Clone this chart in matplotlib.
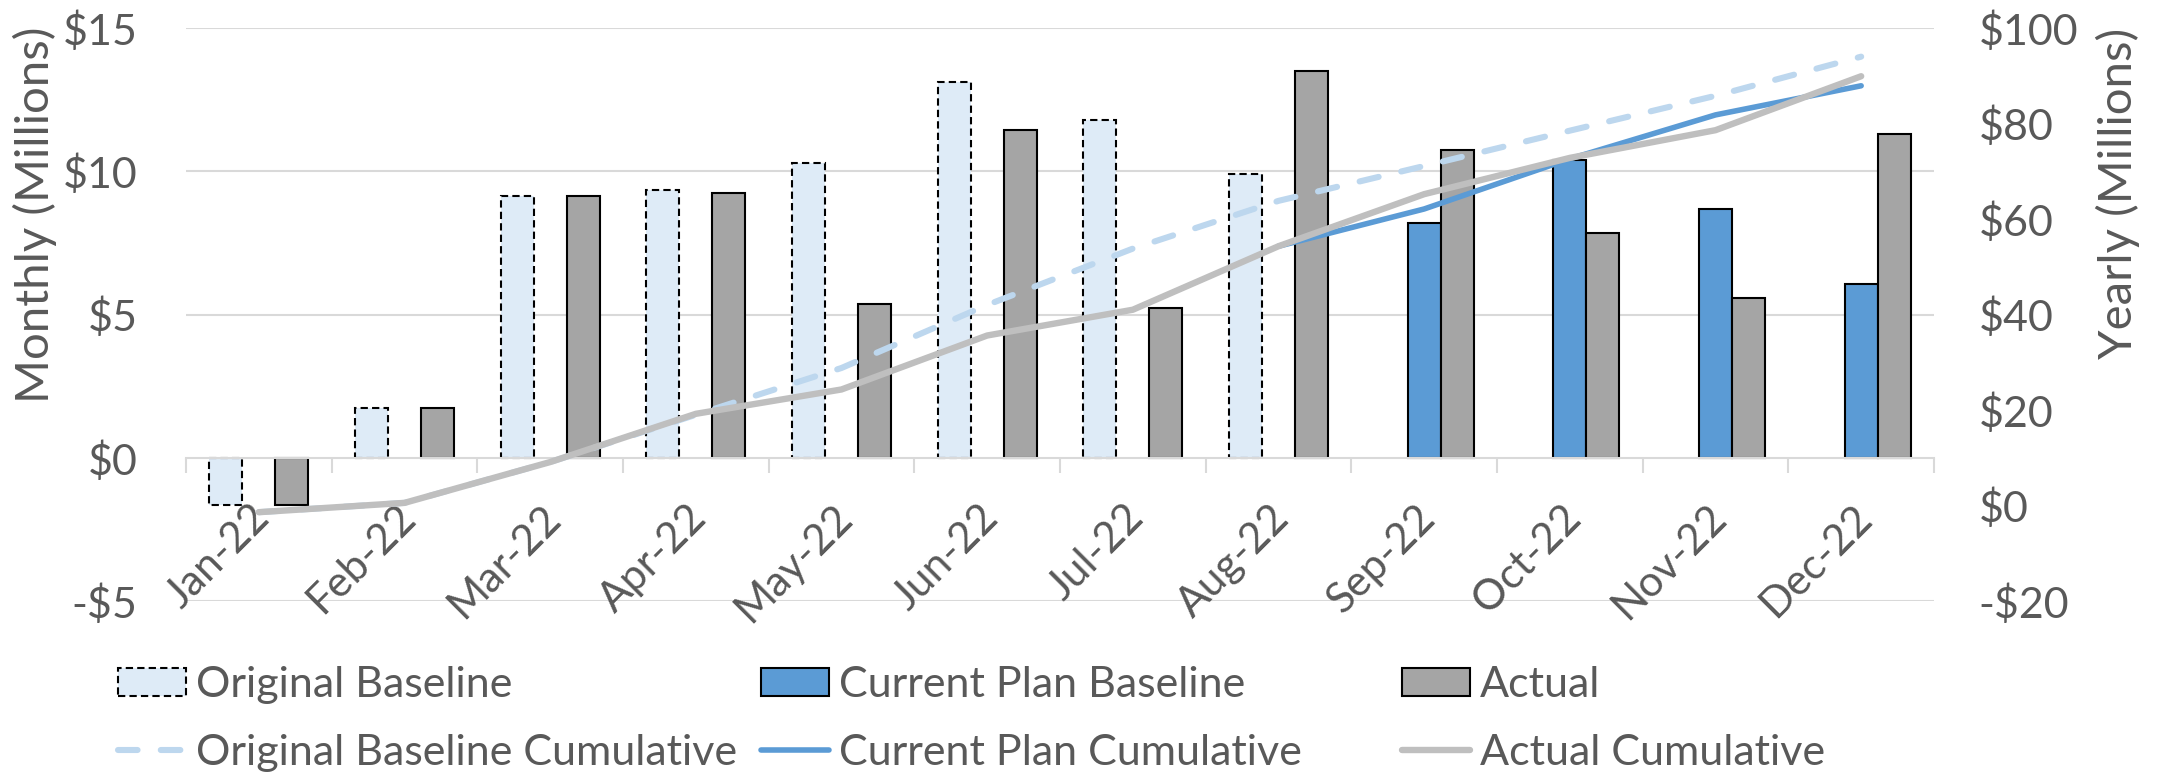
import numpy as np
import matplotlib
matplotlib.use("Agg")
from matplotlib import pyplot as plt
from matplotlib.ticker import FuncFormatter
from matplotlib.transforms import ScaledTranslation

plt.rcParams['font.family'] = ['Lato', 'DejaVu Sans']

nan = np.nan
months = ['Jan-22', 'Feb-22', 'Mar-22', 'Apr-22', 'May-22', 'Jun-22',
          'Jul-22', 'Aug-22', 'Sep-22', 'Oct-22', 'Nov-22', 'Dec-22']

# monthly values ($M)
orig_baseline = [-1.65, 1.72, 9.14, 9.35, 10.28, 13.13, 11.80, 9.92, nan, nan, nan, nan]
plan_baseline = [nan, nan, nan, nan, nan, nan, nan, nan, 8.21, 10.39, 8.67, 6.08]
actual = [-1.65, 1.72, 9.13, 9.24, 5.35, 11.43, 5.21, 13.51, 10.74, 7.86, 5.56, 11.30]

# cumulative values ($M)
orig_cum = [-1.4, 0.55, 9.1, 19.0, 28.8, 42.0, 53.8, 63.8, 71.1, 78.5, 85.8, 94.0]
plan_cum = [nan, nan, nan, nan, nan, nan, nan, 54.3, 62.1, 72.6, 81.8, 87.9]
actual_cum = [-1.4, 0.55, 9.1, 19.2, 24.3, 35.6, 41.0, 54.3, 65.2, 72.8, 78.6, 89.9]

txt = '#595959'
grid = '#D9D9D9'
fs = 31

fig = plt.figure(figsize=(21.6, 7.8), dpi=100)
ax = fig.add_axes([186/2160, 1-601/780, (1934-186)/2160, (601-28)/780])
ax2 = ax.twinx()

x = np.arange(len(months))
w = 0.227
b1 = ax.bar(x - w, orig_baseline, w, color='#DEEBF7', edgecolor='black',
            linewidth=1.5, linestyle=(0, (3.5, 2)), label='Original Baseline', zorder=2)
b2 = ax.bar(x, plan_baseline, w, color='#5B9BD5', edgecolor='black',
            linewidth=1.5, label='Current Plan Baseline', zorder=2)
b3 = ax.bar(x + w, actual, w, color='#A5A5A5', edgecolor='black',
            linewidth=1.5, label='Actual', zorder=2)

l1, = ax2.plot(x, orig_cum, color='#BDD7EE', lw=4.4, dashes=(3.2, 3.8),
               dash_capstyle='round', label='Original Baseline Cumulative')
l2, = ax2.plot(x, plan_cum, color='#5B9BD5', lw=4.0, solid_capstyle='round',
               label='Current Plan Cumulative')
l3, = ax2.plot(x, actual_cum, color='#BFBFBF', lw=4.6, solid_capstyle='round',
               label='Actual Cumulative')

ax.set_xlim(-0.5, 11.5)
ax.set_ylim(-5, 15)
ax.set_yticks([-5, 0, 5, 10, 15])
ax2.set_ylim(-20, 100)
ax2.set_yticks([-20, 0, 20, 40, 60, 80, 100])

money = FuncFormatter(lambda v, p: ('-$%d' % abs(v)) if v < 0 else ('$%d' % v))
ax.yaxis.set_major_formatter(money)
ax2.yaxis.set_major_formatter(money)

for a in (ax, ax2):
    for s in a.spines.values():
        s.set_visible(False)
ax.spines['bottom'].set_visible(True)
ax.spines['bottom'].set_position(('data', 0))
ax.spines['bottom'].set_color(grid)
ax.spines['bottom'].set_linewidth(1.5)

for g in [-5, 5, 10, 15]:
    ax.axhline(g, color=grid, lw=1.5, zorder=0)

ax.set_xticks(np.arange(-0.5, 12, 1))
ax.set_xticklabels([])
ax.set_xticks(x, minor=True)
ax.set_xticklabels(months, minor=True, rotation=45, ha='right', va='top',
                   rotation_mode='anchor')
ax.tick_params(axis='x', which='major', length=11, width=1.5, color=grid, direction='out')
ax.tick_params(axis='x', which='minor', length=0, pad=29, labelsize=30.5, labelcolor=txt)
ax.tick_params(axis='y', length=0, pad=35, labelsize=fs, labelcolor=txt)
ax2.tick_params(axis='y', length=0, pad=32, labelsize=fs, labelcolor=txt)

shift = ScaledTranslation(-9/100, 0, fig.dpi_scale_trans)
for lbl in ax.get_xticklabels(minor=True):
    lbl.set_transform(lbl.get_transform() + shift)

fig.text(35/2160, 1-215/780, 'Monthly (Millions)', rotation=90, ha='center',
         va='center', fontsize=34, color=txt)
fig.text(2118/2160, 1-193/780, 'Yearly (Millions)', rotation=90, ha='center',
         va='center', fontsize=34, color=txt)

# legend: three equal-width columns like the original
cols = [(118, [b1, l1]), (761, [b2, l2]), (1402, [b3, l3])]
for xpos, hs in cols:
    leg = fig.legend(handles=hs, loc='center left',
                     bbox_to_anchor=(xpos/2160, 1-719/780), frameon=False,
                     fontsize=fs, handlelength=1.58, handleheight=0.6,
                     handletextpad=0.23, labelspacing=0.69, borderpad=0,
                     borderaxespad=0)
    for t in leg.get_texts():
        t.set_color(txt)

fig.savefig('out.png', dpi=100)
